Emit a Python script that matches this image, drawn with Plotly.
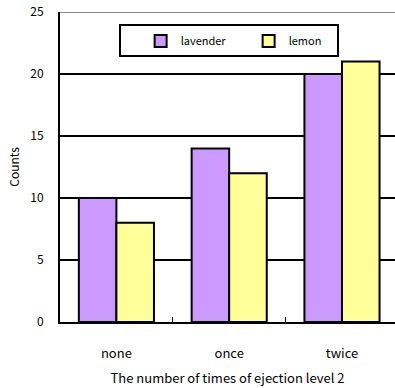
import plotly.graph_objects as go

categories = ["none", "once", "twice"]
lavender = [10, 14, 20]
lemon = [8, 12, 21]
y_ticks = [0, 5, 10, 15, 20, 25]

FONT = "Noto Sans CJK JP"

fig = go.Figure()
fig.add_trace(go.Bar(name="lavender", x=categories, y=lavender,
                     marker=dict(color="#CC99FF", line=dict(color="black", width=2))))
fig.add_trace(go.Bar(name="lemon", x=categories, y=lemon,
                     marker=dict(color="#FFFF99", line=dict(color="black", width=2))))

fig.update_layout(
    width=395, height=388,
    margin=dict(l=60, r=0, t=12, b=66, autoexpand=False),
    paper_bgcolor="white", plot_bgcolor="white",
    barmode="group", bargap=0.334, bargroupgap=0,
    font=dict(family=FONT, size=12, color="black"),
    showlegend=True,
    legend=dict(orientation="h", x=0.175, y=0.96, xanchor="left", yanchor="top",
                bordercolor="black", borderwidth=2, bgcolor="white",
                font=dict(size=11), entrywidth=43, traceorder="normal",
                indentation=20),
    xaxis=dict(range=[-0.5, 2.47], showgrid=False, showline=True, linecolor="black",
               linewidth=2, ticks="inside", tickson="boundaries", ticklen=5,
               tickcolor="black", tickwidth=1, ticklabelstandoff=18, automargin=False,
               tickfont=dict(size=13),
               title=dict(text="The number of times of ejection level 2", standoff=13,
                          font=dict(size=13))),
    yaxis=dict(range=[0, 25], tickvals=y_ticks, showgrid=True, gridcolor="black",
               gridwidth=2, showline=True, linecolor="black", linewidth=2,
               ticks="", zeroline=False, ticklabelstandoff=12, automargin=False,
               ticklabeloverflow="allow",
               title=dict(text="Counts", standoff=8, font=dict(size=12))),
)
fig.add_shape(type="line", xref="paper", yref="y", x0=0, x1=1, y0=25, y1=25,
              line=dict(color="#888888", width=2))

# remove the default 8px page margin so the figure fills the 395x388 window
fig.write_html("out.html", config={"displayModeBar": False},
               post_script="document.body.style.margin='0';")
